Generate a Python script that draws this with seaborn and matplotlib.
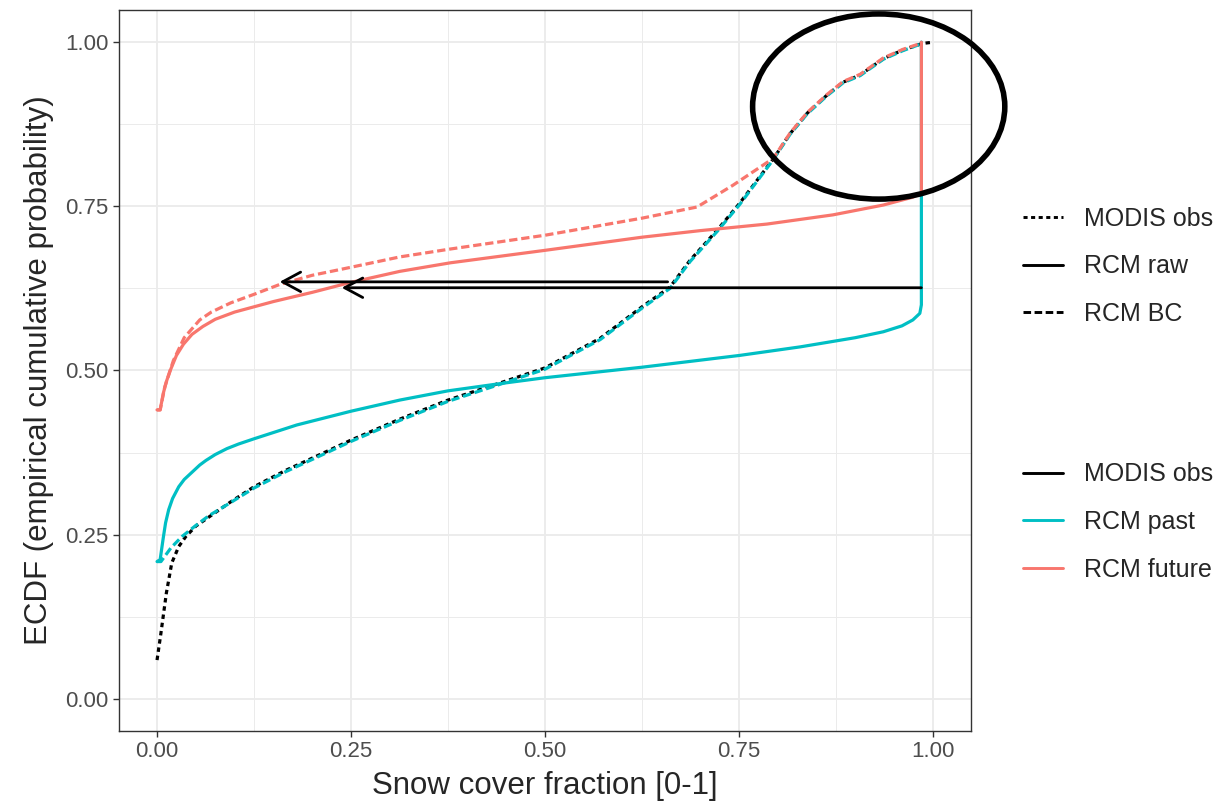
import numpy as np
import pandas as pd
import matplotlib
matplotlib.use("Agg")
import matplotlib.pyplot as plt
from matplotlib.lines import Line2D
from matplotlib.patches import Ellipse
import seaborn as sns

# ECDF curves
modis_x = [0.000, 0.005, 0.012, 0.019, 0.028, 0.037, 0.050, 0.067, 0.095, 0.125, 0.166,
           0.210, 0.250, 0.313, 0.375, 0.442, 0.500, 0.571, 0.625, 0.661, 0.687, 0.722,
           0.751, 0.794, 0.816, 0.838, 0.863, 0.884, 0.906, 0.936, 0.961, 0.986, 1.000]
modis_y = [0.059, 0.100, 0.161, 0.207, 0.232, 0.247, 0.263, 0.277, 0.300, 0.323, 0.348,
           0.372, 0.394, 0.426, 0.455, 0.481, 0.504, 0.549, 0.597, 0.627, 0.668, 0.714,
           0.755, 0.822, 0.861, 0.892, 0.919, 0.939, 0.950, 0.975, 0.988, 0.998, 1.000]

bc_past_x = [0.000, 0.005, 0.018, 0.032, 0.050, 0.067, 0.095, 0.125, 0.166, 0.210, 0.250,
             0.313, 0.375, 0.442, 0.500, 0.571, 0.625, 0.661, 0.687, 0.722, 0.751, 0.794,
             0.816, 0.838, 0.863, 0.884, 0.906, 0.936, 0.961, 0.986]
bc_past_y = [0.209, 0.209, 0.230, 0.247, 0.264, 0.279, 0.299, 0.321, 0.346, 0.370, 0.392,
             0.424, 0.453, 0.479, 0.502, 0.547, 0.595, 0.625, 0.666, 0.712, 0.753, 0.821,
             0.860, 0.891, 0.918, 0.938, 0.949, 0.974, 0.987, 0.998]

raw_past_x = [0.000, 0.004, 0.008, 0.011, 0.015, 0.020, 0.028, 0.035, 0.045, 0.055, 0.063,
              0.075, 0.090, 0.105, 0.125, 0.180, 0.250, 0.313, 0.375, 0.442, 0.500, 0.625,
              0.751, 0.829, 0.900, 0.936, 0.960, 0.974, 0.983, 0.985, 0.985]
raw_past_y = [0.209, 0.212, 0.245, 0.268, 0.288, 0.305, 0.323, 0.334, 0.345, 0.356, 0.363,
              0.372, 0.381, 0.388, 0.396, 0.417, 0.438, 0.455, 0.469, 0.480, 0.489, 0.505,
              0.523, 0.536, 0.550, 0.559, 0.568, 0.577, 0.587, 0.600, 1.000]

raw_fut_x = [0.000, 0.004, 0.008, 0.012, 0.017, 0.025, 0.034, 0.045, 0.059, 0.075, 0.100,
             0.125, 0.150, 0.200, 0.249, 0.313, 0.378, 0.500, 0.625, 0.700, 0.786, 0.871,
             0.936, 0.974, 0.985, 0.985]
raw_fut_y = [0.440, 0.440, 0.465, 0.483, 0.500, 0.523, 0.540, 0.555, 0.567, 0.578, 0.589,
             0.597, 0.605, 0.619, 0.634, 0.651, 0.664, 0.683, 0.703, 0.713, 0.723, 0.737,
             0.752, 0.764, 0.770, 1.000]

bc_fut_x = [0.000, 0.004, 0.010, 0.021, 0.035, 0.055, 0.070, 0.095, 0.125, 0.158, 0.200,
            0.249, 0.313, 0.378, 0.500, 0.625, 0.696, 0.742, 0.794, 0.816, 0.838, 0.863,
            0.884, 0.906, 0.936, 0.961, 0.986]
bc_fut_y = [0.440, 0.440, 0.475, 0.515, 0.550, 0.577, 0.589, 0.603, 0.616, 0.631, 0.645,
            0.657, 0.673, 0.685, 0.706, 0.732, 0.749, 0.782, 0.823, 0.862, 0.893, 0.920,
            0.940, 0.951, 0.976, 0.989, 0.999]

# arrows (quantile mapping illustration)
arrow_y = [0.635, 0.626]
arrow_from = [0.658, 0.985]
arrow_to = [0.158, 0.238]

sources = ["MODIS obs", "RCM past", "RCM future"]
kinds = ["MODIS obs", "RCM raw", "RCM BC"]
palette = {"MODIS obs": "black", "RCM past": "#00BFC4", "RCM future": "#F8766D"}
dash_map = {"MODIS obs": (1.4, 1.2), "RCM raw": "", "RCM BC": (2.6, 1.2)}

series = [
    ("obs", "MODIS obs", "MODIS obs", modis_x, modis_y),
    ("past_bc", "RCM past", "RCM BC", bc_past_x, bc_past_y),
    ("past_raw", "RCM past", "RCM raw", raw_past_x, raw_past_y),
    ("fut_raw", "RCM future", "RCM raw", raw_fut_x, raw_fut_y),
    ("fut_bc", "RCM future", "RCM BC", bc_fut_x, bc_fut_y),
]
frames = []
for name, src, kind, xs, ys in series:
    frames.append(pd.DataFrame({"x": xs, "y": ys, "series": name, "source": src, "kind": kind}))
df = pd.concat(frames, ignore_index=True)

sns.set_style("white")
plt.rcParams["font.family"] = ["Liberation Sans", "DejaVu Sans"]

fig = plt.figure(figsize=(12.17, 8.07), dpi=100)
ax = fig.add_axes([0.0978, 0.0942, 0.7001, 0.8934])

sns.lineplot(data=df, x="x", y="y", hue="source", style="kind", units="series",
             estimator=None, sort=False, palette=palette, hue_order=sources,
             style_order=kinds, dashes=dash_map, linewidth=2.3, legend=False, ax=ax)

for y0, x0, x1 in zip(arrow_y, arrow_from, arrow_to):
    ax.annotate("", xy=(x1, y0), xytext=(x0, y0),
                arrowprops=dict(arrowstyle="->,head_length=0.65,head_width=0.35",
                                lw=2.0, color="black", mutation_scale=20,
                                shrinkA=0, shrinkB=0))

ax.add_patch(Ellipse((0.930, 0.902), 0.325, 0.282, fill=False, lw=4.0,
                     edgecolor="black", clip_on=False, zorder=5))

ax.set_xlim(-0.049, 1.049)
ax.set_ylim(-0.049, 1.049)
ticks = [0, 0.25, 0.5, 0.75, 1.0]
ax.set_xticks(ticks)
ax.set_yticks(ticks)
ax.set_xticklabels([f"{t:.2f}" for t in ticks])
ax.set_yticklabels([f"{t:.2f}" for t in ticks])
ax.set_xticks([0.125, 0.375, 0.625, 0.875], minor=True)
ax.set_yticks([0.125, 0.375, 0.625, 0.875], minor=True)
ax.grid(which="major", color="#EBEBEB", lw=1.3)
ax.grid(which="minor", color="#EBEBEB", lw=0.7)
ax.set_axisbelow(True)
ax.tick_params(which="major", length=4.5, width=1.0, color="#333333",
               labelsize=16, labelcolor="#4D4D4D", pad=3, bottom=True, left=True)
ax.tick_params(which="minor", length=0)
for sp in ax.spines.values():
    sp.set_color("#333333")
    sp.set_linewidth(1.0)

ax.set_xlabel("Snow cover fraction [0-1]", fontsize=22.5, labelpad=6)
ax.set_ylabel("ECDF (empirical cumulative probability)", fontsize=22.5, labelpad=8)

# linetype legend
lt_handles = [Line2D([], [], color="black", lw=2.1, linestyle=(0, dash_map[k]) if dash_map[k] else "-")
              for k in kinds]
fig.legend(lt_handles, kinds, loc="center left", bbox_to_anchor=(0.8406, 0.670),
           frameon=False, fontsize=18, handlelength=1.6, handletextpad=0.85,
           labelspacing=0.95, borderpad=0, borderaxespad=0)
# colour legend
col_handles = [Line2D([], [], color=palette[s], lw=2.1) for s in sources]
fig.legend(col_handles, sources, loc="center left", bbox_to_anchor=(0.8406, 0.353),
           frameon=False, fontsize=18, handlelength=1.6, handletextpad=0.85,
           labelspacing=0.95, borderpad=0, borderaxespad=0)

fig.savefig("out.png", dpi=100)
